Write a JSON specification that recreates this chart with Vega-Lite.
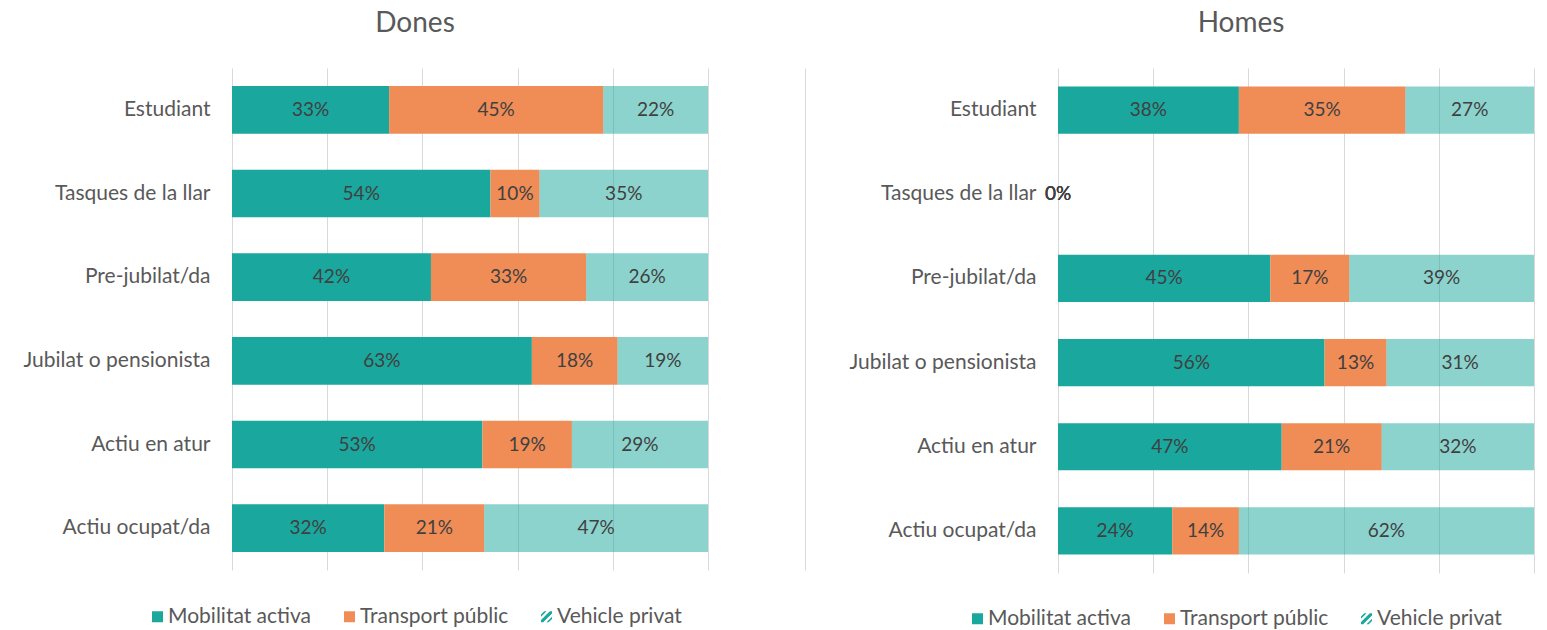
{
  "$schema": "https://vega.github.io/schema/vega-lite/v6.json",
  "padding": {"left": 18, "top": 10, "right": 13, "bottom": 5},
  "background": "white",
  "spacing": 28,
  "config": {
    "font": "Lato",
    "view": {"stroke": null},
    "title": {"fontSize": 28, "fontWeight": "normal", "color": "#595959", "font": "Lato", "offset": 30, "dx": -55},
    "axisY": {"domain": false, "ticks": false, "labelColor": "#595959", "labelFontSize": 21, "labelFont": "Lato", "labelPadding": 22, "labelLimit": 400, "title": null, "grid": false},
    "axisX": {"domain": false, "ticks": false, "labels": false, "grid": true, "gridColor": "#d9d9d9", "title": null},
    "legend": {"orient": "none", "direction": "horizontal", "title": null, "symbolType": "square", "symbolSize": 121, "symbolStrokeWidth": 0, "symbolOpacity": 1, "labelFontSize": 21, "labelFont": "Lato", "labelColor": "#595959", "labelOffset": 0, "columnPadding": 27}
  },
  "datasets": {
    "dones": [
      {"cat": "Estudiant", "mode": "Mobilitat activa", "share": 0.33},
      {"cat": "Estudiant", "mode": "Transport públic", "share": 0.45},
      {"cat": "Estudiant", "mode": "Vehicle privat", "share": 0.22},
      {"cat": "Tasques de la llar", "mode": "Mobilitat activa", "share": 0.543},
      {"cat": "Tasques de la llar", "mode": "Transport públic", "share": 0.103},
      {"cat": "Tasques de la llar", "mode": "Vehicle privat", "share": 0.354},
      {"cat": "Pre-jubilat/da", "mode": "Mobilitat activa", "share": 0.418},
      {"cat": "Pre-jubilat/da", "mode": "Transport públic", "share": 0.326},
      {"cat": "Pre-jubilat/da", "mode": "Vehicle privat", "share": 0.256},
      {"cat": "Jubilat o pensionista", "mode": "Mobilitat activa", "share": 0.63},
      {"cat": "Jubilat o pensionista", "mode": "Transport públic", "share": 0.18},
      {"cat": "Jubilat o pensionista", "mode": "Vehicle privat", "share": 0.19},
      {"cat": "Actiu en atur", "mode": "Mobilitat activa", "share": 0.526},
      {"cat": "Actiu en atur", "mode": "Transport públic", "share": 0.188},
      {"cat": "Actiu en atur", "mode": "Vehicle privat", "share": 0.286},
      {"cat": "Actiu ocupat/da", "mode": "Mobilitat activa", "share": 0.32},
      {"cat": "Actiu ocupat/da", "mode": "Transport públic", "share": 0.21},
      {"cat": "Actiu ocupat/da", "mode": "Vehicle privat", "share": 0.47}
    ],
    "homes": [
      {"cat": "Estudiant", "mode": "Mobilitat activa", "share": 0.38},
      {"cat": "Estudiant", "mode": "Transport públic", "share": 0.35},
      {"cat": "Estudiant", "mode": "Vehicle privat", "share": 0.27},
      {"cat": "Tasques de la llar", "mode": "Mobilitat activa", "share": 0},
      {"cat": "Tasques de la llar", "mode": "Transport públic", "share": 0},
      {"cat": "Tasques de la llar", "mode": "Vehicle privat", "share": 0},
      {"cat": "Pre-jubilat/da", "mode": "Mobilitat activa", "share": 0.446},
      {"cat": "Pre-jubilat/da", "mode": "Transport públic", "share": 0.166},
      {"cat": "Pre-jubilat/da", "mode": "Vehicle privat", "share": 0.388},
      {"cat": "Jubilat o pensionista", "mode": "Mobilitat activa", "share": 0.56},
      {"cat": "Jubilat o pensionista", "mode": "Transport públic", "share": 0.13},
      {"cat": "Jubilat o pensionista", "mode": "Vehicle privat", "share": 0.31},
      {"cat": "Actiu en atur", "mode": "Mobilitat activa", "share": 0.47},
      {"cat": "Actiu en atur", "mode": "Transport públic", "share": 0.21},
      {"cat": "Actiu en atur", "mode": "Vehicle privat", "share": 0.32},
      {"cat": "Actiu ocupat/da", "mode": "Mobilitat activa", "share": 0.24},
      {"cat": "Actiu ocupat/da", "mode": "Transport públic", "share": 0.14},
      {"cat": "Actiu ocupat/da", "mode": "Vehicle privat", "share": 0.62}
    ]
  },
  "hconcat": [
    {
      "title": {"text": "Dones"},
      "width": 476,
      "height": 502,
      "data": {"name": "dones"},
      "layer": [
        {
          "mark": {"type": "bar"},
          "encoding": {
            "y": {"field": "cat", "type": "nominal", "sort": ["Estudiant", "Tasques de la llar", "Pre-jubilat/da", "Jubilat o pensionista", "Actiu en atur", "Actiu ocupat/da"], "scale": {"paddingInner": 0.43, "paddingOuter": 0.215}, "axis": {"minExtent": 214}},
            "x": {"field": "share", "type": "quantitative", "stack": "zero", "scale": {"domain": [0, 1]}, "axis": {"values": [0, 0.2, 0.4, 0.6, 0.8, 1]}},
            "order": {"field": "mode", "type": "ordinal"},
            "fillOpacity": {"condition": {"test": "datum.mode === 'Vehicle privat'", "value": 0.5}, "value": 1},
            "color": {"field": "mode", "type": "nominal", "scale": {"domain": ["Mobilitat activa", "Transport públic", "Vehicle privat"], "range": ["#1aa79d", "#f08c56", "#1aa79d"]},
              "legend": {"legendX": -85, "legendY": 538,
                "encode": {"symbols": {"update": {
                  "fillOpacity": {"value": 1},
                  "opacity": {"value": 1},
                  "shape": {"signal": "datum.value === 'Vehicle privat' ? 'M-1,-0.4L-0.4,-1L0,-1L-1,0Z M-1,0.6L0.6,-1L1,-1L1,-0.6L-0.6,1L-1,1Z M1,0L1,0.4L0.4,1L0,1Z' : 'square'"}}}}}}
          }
        },
        {
          "mark": {"type": "text", "fontSize": 19, "font": "Lato", "color": "#404040"},
          "encoding": {
            "y": {"field": "cat", "type": "nominal", "sort": ["Estudiant", "Tasques de la llar", "Pre-jubilat/da", "Jubilat o pensionista", "Actiu en atur", "Actiu ocupat/da"], "axis": {"orient": "right", "labels": false, "ticks": false, "domain": true, "domainColor": "#d9d9d9", "offset": 97, "minExtent": 0}},
            "x": {"field": "share", "type": "quantitative", "stack": "zero", "bandPosition": 0.5},
            "detail": {"field": "mode"},
            "order": {"field": "mode", "type": "ordinal"},
            "text": {"field": "share", "format": ".0%"}
          }
        }
      ],
      "resolve": {"axis": {"y": "independent"}}
    },
    {
      "title": {"text": "Homes"},
      "width": 476,
      "height": 505,
      "data": {"name": "homes"},
      "layer": [
        {
          "mark": {"type": "bar"},
          "encoding": {
            "y": {"field": "cat", "type": "nominal", "sort": ["Estudiant", "Tasques de la llar", "Pre-jubilat/da", "Jubilat o pensionista", "Actiu en atur", "Actiu ocupat/da"], "scale": {"paddingInner": 0.44, "paddingOuter": 0.22}, "axis": {"minExtent": 225}},
            "x": {"field": "share", "type": "quantitative", "stack": "zero", "scale": {"domain": [0, 1]}, "axis": {"values": [0, 0.2, 0.4, 0.6, 0.8, 1]}},
            "order": {"field": "mode", "type": "ordinal"},
            "fillOpacity": {"condition": {"test": "datum.mode === 'Vehicle privat'", "value": 0.5}, "value": 1},
            "color": {"field": "mode", "type": "nominal", "scale": {"domain": ["Mobilitat activa", "Transport públic", "Vehicle privat"], "range": ["#1aa79d", "#f08c56", "#1aa79d"]},
              "legend": {"legendX": -91, "legendY": 540,
                "encode": {"symbols": {"update": {
                  "fillOpacity": {"value": 1},
                  "opacity": {"value": 1},
                  "shape": {"signal": "datum.value === 'Vehicle privat' ? 'M-1,-0.4L-0.4,-1L0,-1L-1,0Z M-1,0.6L0.6,-1L1,-1L1,-0.6L-0.6,1L-1,1Z M1,0L1,0.4L0.4,1L0,1Z' : 'square'"}}}}}}
          }
        },
        {
          "mark": {"type": "text", "fontSize": 19, "font": "Lato", "color": "#404040"},
          "encoding": {
            "y": {"field": "cat", "type": "nominal", "sort": ["Estudiant", "Tasques de la llar", "Pre-jubilat/da", "Jubilat o pensionista", "Actiu en atur", "Actiu ocupat/da"]},
            "x": {"field": "share", "type": "quantitative", "stack": "zero", "bandPosition": 0.5},
            "detail": {"field": "mode"},
            "order": {"field": "mode", "type": "ordinal"},
            "text": {"field": "share", "format": ".0%"}
          }
        }
      ]
    }
  ],
  "resolve": {"scale": {"color": "independent", "x": "independent", "y": "independent"}, "legend": {"color": "independent"}}
}
